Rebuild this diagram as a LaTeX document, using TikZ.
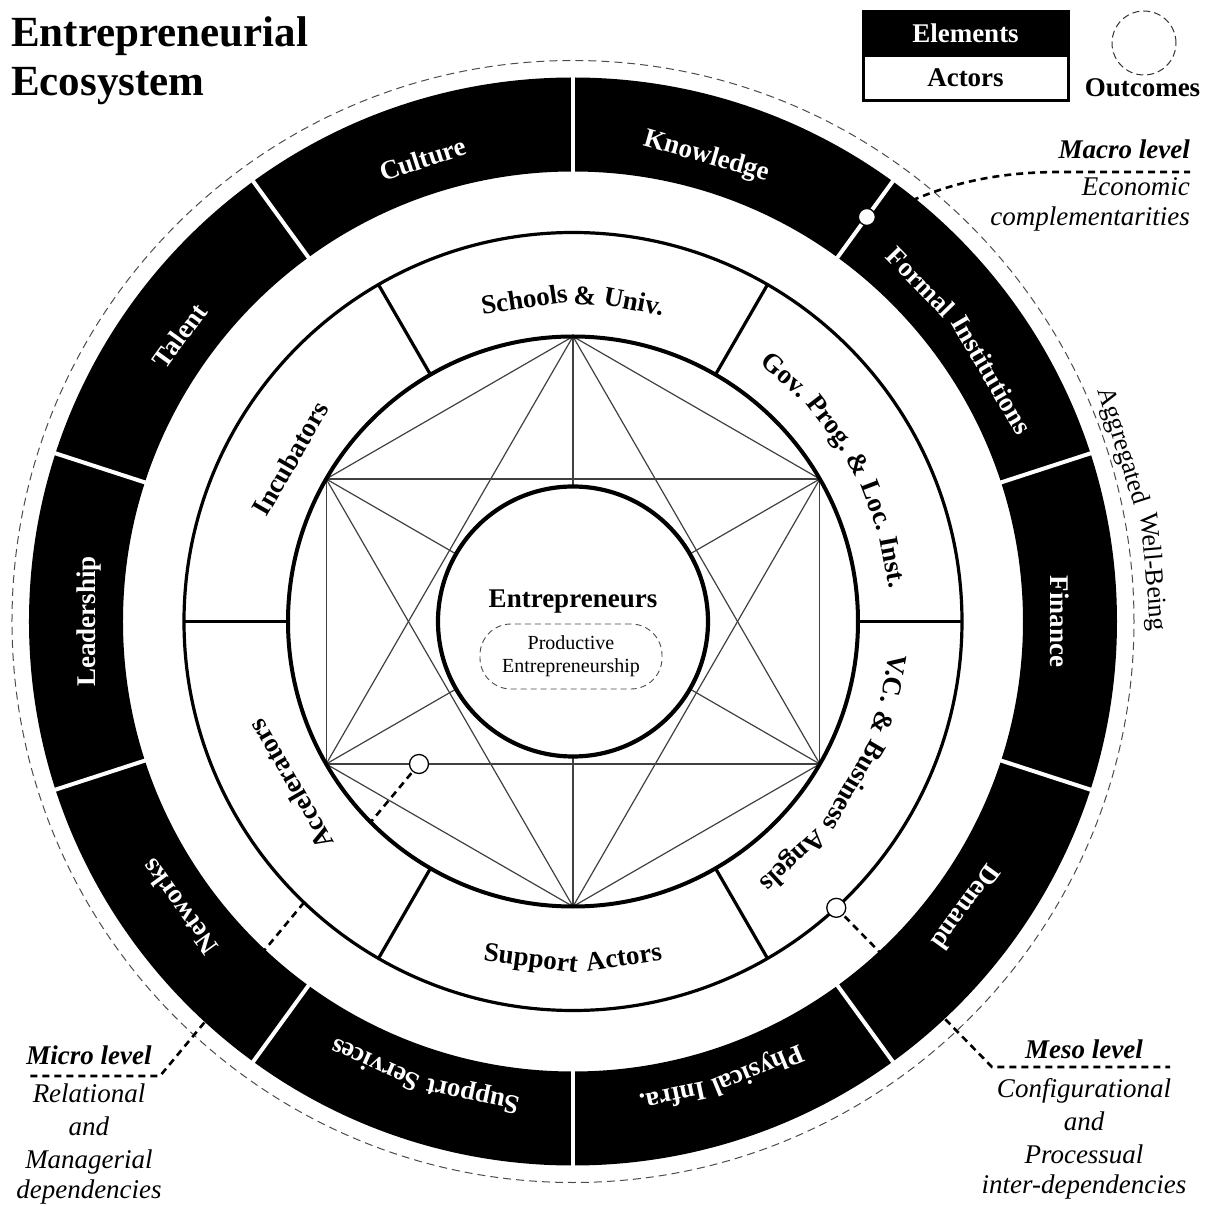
\documentclass[tikz,border=0pt]{standalone}
\usepackage{fontspec}
\setmainfont{Liberation Serif}
\newcommand\fsz[2]{\fontsize{#1}{#2}\selectfont}
% #1 angle, #2 baseline radius, #3 style, #4 text, #5 name
\newcommand\wordout[5]{\node[#3,rotate=#1-90] (#5) at (#1:#2) {#4};}
\newcommand\wordin[5]{\node[#3,rotate=#1+90] (#5) at (#1:#2) {#4};}
\begin{document}
\begin{tikzpicture}[x=1pt,y=1pt,
  lead/.style={line width=2.6,dash pattern=on 7 off 5},
  marker/.style={circle,draw,fill=white,line width=1.3,inner sep=0,minimum size=19},
  starline/.style={black!75,line width=1.2},
  txt/.style={inner sep=0,anchor=base},
  elabel/.style={inner sep=0,anchor=base,font=\fsz{27}{30}\bfseries,text=white},
  alabel/.style={inner sep=0,anchor=base,font=\fsz{27}{30}\bfseries,text=black},
  olabel/.style={inner sep=0,anchor=base,font=\fsz{26}{28},text=black}]
\useasboundingbox (-573,-585.5) rectangle (635,621.5);
% outcome circle
\draw[black!70,line width=1,dash pattern=on 8 off 5] (0,0) circle[radius=561];
% leader lines (drawn first, partly hidden by the rings)
\coordinate (mic) at (-154,-142.5);
\coordinate (mes) at (-47.4:389);
\coordinate (mac) at (54:500);
\coordinate (micA) at (-413,-454.5);
\coordinate (micB) at (-546,-454.5);
\coordinate (mesA) at (419,-445.5);
\coordinate (mesB) at (597,-445.5);
\coordinate (macA) at (345,423.5);
\coordinate (macB) at (487,449.5);
\coordinate (macC) at (617,449.5);
\draw[lead] (mic) -- (micA) -- (micB);
\draw[lead] (mes) -- (mesA) -- (mesB);
\draw[lead] (mac) -- (macA) .. controls (385,440) and (430,449.5) .. (macB) -- (macC);
% elements ring
\fill[even odd rule] (0,0) circle[radius=544] (0,0) circle[radius=450];
\foreach \a in {18,54,...,342} \draw[white,line width=4] (\a:448) -- (\a:546);
% actors ring
\fill[white,even odd rule] (0,0) circle[radius=389] (0,0) circle[radius=285];
% star of relations
\foreach \i in {0,...,5} \coordinate (v\i) at (90+60*\i:285);
\foreach \i in {0,...,4}{%
  \pgfmathtruncatemacro\jstart{\i+1}%
  \foreach \j in {\jstart,...,5} \draw[starline] (v\i) -- (v\j);
}
\draw[line width=3.2] (0,0) circle[radius=389];
\draw[line width=4] (0,0) circle[radius=285];
\foreach \a in {0,60,...,300} \draw[line width=3.2] (\a:285) -- (\a:389);
% centre
\node[circle,draw,line width=4.2,fill=white,minimum size=270,inner sep=0] (ent) at (0,0) {};
\node[txt,font=\fsz{27}{30}\bfseries] (entt) at (0,13.5) {Entrepreneurs};
\node[draw=black!70,dash pattern=on 6 off 4,line width=0.9,rounded corners=31,
      minimum width=182,minimum height=65,align=center,font=\fsz{20}{23},inner sep=0]
      (prod) at (-2,-35) {Productive\\Entrepreneurship};
% markers
\node[marker] (micc) at (mic) {};
\node[marker] (mesc) at (mes) {};
\node[marker,minimum size=17] (macc) at (mac) {};
% element labels
\wordout{108}{477}{elabel}{Culture}{eCul}
\wordout{74}{477}{elabel}{Knowledge}{eKno}
\wordout{44.3}{477}{elabel}{Formal}{eFor}
\wordout{30.5}{477}{elabel}{Institutions}{eIns}
\wordout{0}{477}{elabel}{Finance}{eFin}
\wordout{-36}{477}{elabel}{Demand}{eDem}
\wordout{-67.6}{477}{elabel}{Physical}{ePhy}
\wordout{-78.15}{477}{elabel}{Infra.}{eInf}
\wordout{-101.95}{477}{elabel}{Support}{eSup}
\wordout{-114.05}{477}{elabel}{Services}{eSer}
\wordout{-144}{477}{elabel}{Networks}{eNet}
\wordout{180}{477}{elabel}{Leadership}{eLea}
\wordout{144}{477}{elabel}{Talent}{eTal}
% actor labels
\wordout{98.6}{317}{alabel}{Schools}{aSch}
\wordout{87.9}{317}{alabel}{\&}{aSchA}
\wordout{79.2}{317}{alabel}{Univ.}{aUni}
\wordout{49.3}{317}{alabel}{Gov.}{aGov}
\wordout{37.6}{317}{alabel}{Prog.}{aPro}
\wordout{28.8}{317}{alabel}{\&}{aGovA}
\wordout{20.9}{317}{alabel}{Loc.}{aLoc}
\wordout{10.5}{317}{alabel}{Inst.}{aIns}
\wordout{-10.2}{317}{alabel}{V.C.}{aVC}
\wordout{-18.2}{317}{alabel}{\&}{aVCA}
\wordout{-30.3}{317}{alabel}{Business}{aBus}
\wordout{-47.4}{317}{alabel}{Angels}{aAng}
\wordout{210}{317}{alabel}{Accelerators}{aAcc}
\wordout{150}{317}{alabel}{Incubators}{aInc}
\wordin{-97.1}{348}{alabel}{Support}{aSup}
\wordin{-81.4}{348}{alabel}{Actors}{aAct}
% outcome label
\wordout{17.7}{570}{olabel}{Aggregated}{oAgg}
\wordout{4.9}{575}{olabel}{Well-Being}{oWel}
% title
\node[inner sep=0,anchor=base west,font=\fsz{43}{48}\bfseries] (t1) at (-562,574.5) {Entrepreneurial};
\node[inner sep=0,anchor=base west,font=\fsz{43}{48}\bfseries] (t2) at (-562,525.5) {Ecosystem};
% legend
\fill (290,564.5) rectangle (495,609.5);
\draw[line width=3] (290,520.5) rectangle (495,609.5);
\node[txt,font=\fsz{27}{30}\bfseries,text=white] (lel) at (392.5,578.8) {Elements};
\node[txt,font=\fsz{27}{30}\bfseries] (lac) at (392.5,534.5) {Actors};
\node[circle,draw=black!80,line width=1,dash pattern=on 7 off 4,minimum size=64,inner sep=0] (lout) at (571,578.5) {};
\node[txt,font=\fsz{27}{30}\bfseries] (lot) at (569.5,525) {Outcomes};
% macro level
\node[inner sep=0,anchor=base east,font=\fsz{27}{30}\bfseries\itshape] (ma1) at (617,462.5) {Macro level};
\node[inner sep=0,anchor=base east,font=\fsz{27}{30}\itshape] (ma2) at (617,425.5) {Economic};
\node[inner sep=0,anchor=base east,font=\fsz{27}{30}\itshape] (ma3) at (617,395.5) {complementarities};
% micro level
\node[txt,font=\fsz{27}{30}\bfseries\itshape] (mi1) at (-484,-442.5) {Micro level};
\node[txt,font=\fsz{27}{30}\itshape] (mi2) at (-484,-480.5) {Relational};
\node[txt,font=\fsz{27}{30}\itshape] (mi3) at (-484,-513.5) {and};
\node[txt,font=\fsz{27}{30}\itshape] (mi4) at (-484,-546.5) {Managerial};
\node[txt,font=\fsz{27}{30}\itshape] (mi5) at (-484,-576.5) {dependencies};
% meso level
\node[txt,font=\fsz{27}{30}\bfseries\itshape] (me1) at (511,-436.5) {Meso level};
\node[txt,font=\fsz{27}{30}\itshape] (me2) at (511,-475.5) {Configurational};
\node[txt,font=\fsz{27}{30}\itshape] (me3) at (511,-508.5) {and};
\node[txt,font=\fsz{27}{30}\itshape] (me4) at (511,-541.5) {Processual};
\node[txt,font=\fsz{27}{30}\itshape] (me5) at (511,-571.5) {inter-dependencies};
\end{tikzpicture}
\end{document}
